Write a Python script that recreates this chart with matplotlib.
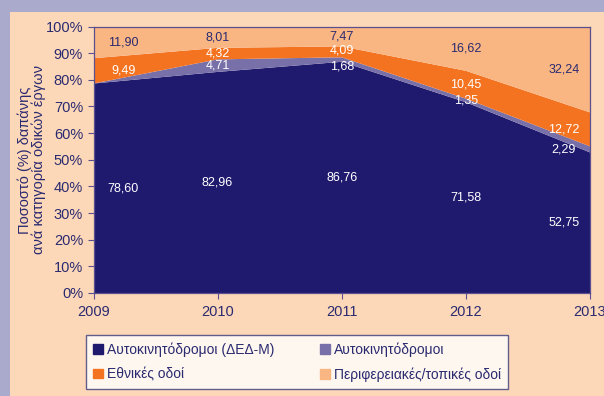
import matplotlib.pyplot as plt
from matplotlib.patches import Rectangle

plt.rcParams['font.family'] = ['Liberation Sans', 'DejaVu Sans']

years = [2009, 2010, 2011, 2012, 2013]
ded_m = [78.60, 82.96, 86.76, 71.58, 52.75]
motorways = [0.00, 4.71, 1.68, 1.35, 2.29]
national = [9.49, 4.32, 4.09, 10.45, 12.72]
regional = [11.90, 8.01, 7.47, 16.62, 32.24]

series = [ded_m, motorways, national, regional]
names = ['Αυτοκινητόδρομοι (ΔΕΔ-Μ)', 'Αυτοκινητόδρομοι',
         'Εθνικές οδοί', 'Περιφερειακές/τοπικές οδοί']
colors = ['#201a6e', '#7870a8', '#f47320', '#f9b582']
label_colors = ['white', 'white', 'white', '#2a2a70']

navy = '#2a2a70'

fig = plt.figure(figsize=(6.04, 3.96), dpi=100)
fig.patch.set_facecolor('#aaaacc')
fig.add_artist(Rectangle((10 / 604, 0), 1, (396 - 12) / 396,
                         transform=fig.transFigure, facecolor='#fdd8b8',
                         edgecolor='none', zorder=0))

ax = fig.add_axes([93.5 / 604, 1 - 293 / 396, (590 - 93.5) / 604, (293 - 26.5) / 396])
ax.stackplot(years, *series, colors=colors, linewidth=0)
ax.set_xlim(2009, 2013)
ax.set_ylim(0, 100)
ax.set_facecolor('white')

# value labels at the middle of each band, pushed inwards at the edges
x_shift = [0.24, 0, 0, 0, -0.21]
nudge = {(1, 2011): -2.5, (2, 2011): 0.6}
for i, yr in enumerate(years):
    base = 0
    for s, vals in enumerate(series):
        v = vals[i]
        if v > 0:
            y = base + v / 2 + nudge.get((s, yr), 0)
            ax.text(yr + x_shift[i], y, f'{v:.2f}'.replace('.', ','),
                    ha='center', va='center', fontsize=9, color=label_colors[s])
        base += v

ax.set_yticks(range(0, 101, 10))
ax.set_yticklabels([f'{t}%' for t in range(0, 101, 10)])
ax.set_xticks(years)
ax.tick_params(axis='both', colors='#5a5090', labelcolor=navy, labelsize=10.5, length=4)
ax.tick_params(axis='x', pad=5)
for sp in ax.spines.values():
    sp.set_color('#5a5090')
    sp.set_linewidth(0.9)

fig.text(32 / 604, 1 - 160 / 396, 'Ποσοστό (%) δαπάνης\nανά κατηγορία οδικών έργων',
         rotation=90, ha='center', va='center', fontsize=10.5, color=navy,
         linespacing=0.95)

# legend reads row by row, matplotlib fills column by column
order = [0, 2, 1, 3]
handles = [Rectangle((0, 0), 1, 1, color=colors[k]) for k in order]
leg = fig.legend(handles, [names[k] for k in order], ncol=2, loc='center',
                 bbox_to_anchor=(297 / 604, 1 - 362 / 396),
                 fontsize=10, frameon=True, fancybox=False,
                 handlelength=0.7, handleheight=0.7, handletextpad=0.3,
                 columnspacing=3.3, borderpad=0.5, labelspacing=0.75)
leg.get_frame().set_edgecolor('#3a3a7a')
leg.get_frame().set_linewidth(1.0)
leg.get_frame().set_facecolor('white')
for t in leg.get_texts():
    t.set_color(navy)

fig.savefig('out.png', dpi=100, facecolor=fig.get_facecolor())
